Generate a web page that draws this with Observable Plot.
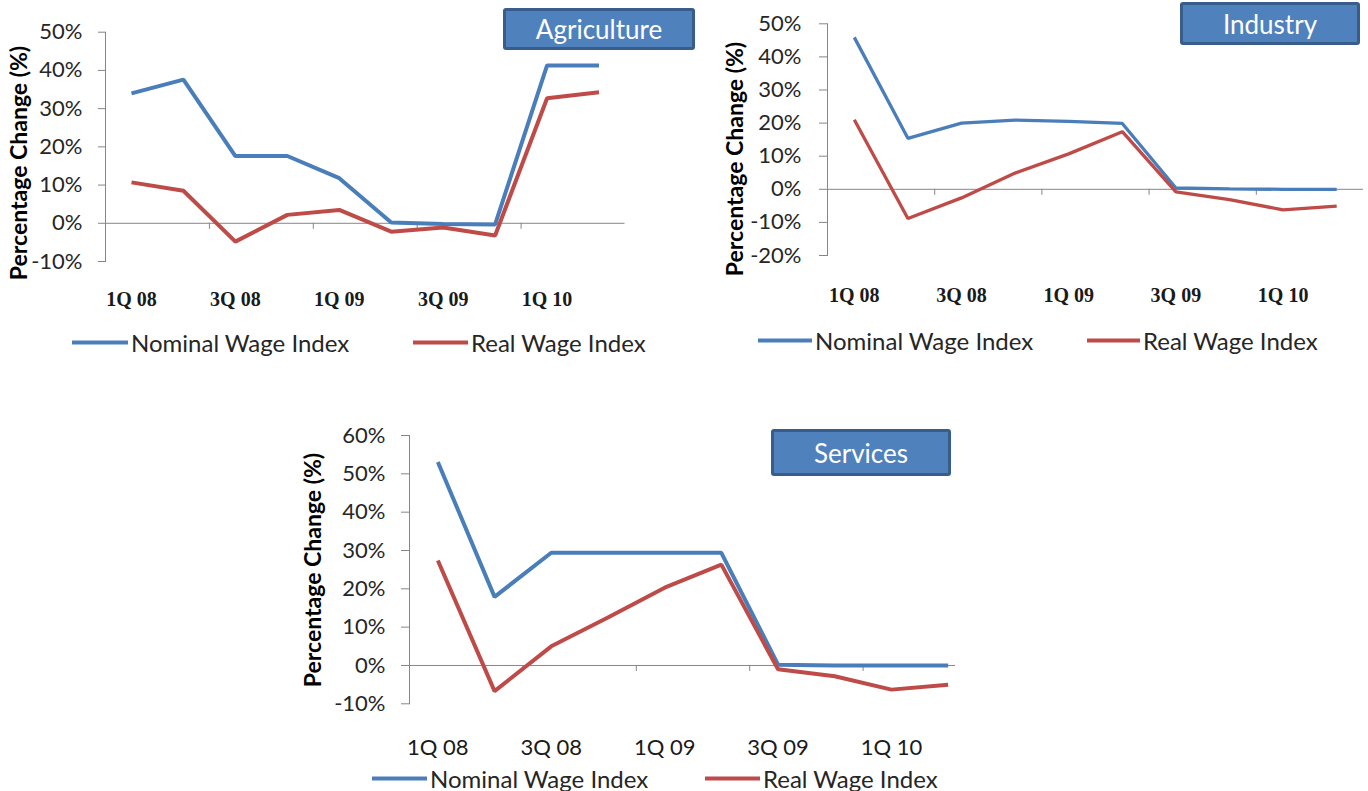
<!DOCTYPE html>
<html>
<head>
<meta charset="utf-8">
<script src="https://cdn.jsdelivr.net/npm/d3@7"></script>
<script src="https://cdn.jsdelivr.net/npm/@observablehq/plot@0.6"></script>
<style>
  body { margin: 0; background: #fff; }
  #page { position: relative; width: 1368px; height: 791px; overflow: hidden;
          font-family: Lato, "Open Sans", sans-serif; color: #262626; }
  .panel { position: absolute; }
  .title-box { position: absolute; box-sizing: border-box; background: #4F81BD;
               border: 3px solid #385D8A; border-radius: 3px; color: #fff;
               display: flex; align-items: center; justify-content: center;
               font-size: 26px; }
  .ytitle { position: absolute; transform: translate(-50%, -50%) rotate(-90deg);
            white-space: nowrap; font-weight: bold; font-size: 23px; color: #000; }
  .legend-item { position: absolute; display: flex; align-items: center;
                 transform: translateY(-50%); font-size: 24px; white-space: nowrap; }
  .swatch { display: inline-block; height: 4px; margin-right: 3px; }
</style>
</head>
<body>
<div id="page"></div>
<script>
// Quarterly year-on-year change in wage indices, 1Q 2008 – 2Q 2010 (%)
const quarters = ["1Q 08", "2Q 08", "3Q 08", "4Q 08", "1Q 09", "2Q 09", "3Q 09", "4Q 09", "1Q 10", "2Q 10"];
const seriesNames = ["Nominal Wage Index", "Real Wage Index"];
const seriesColors = ["#4A7EBB", "#BE4B48"];

const agricultureNominal = [34.0, 37.6, 17.6, 17.6, 11.8, 0.2, -0.2, -0.3, 41.3, 41.3];
const agricultureReal    = [10.7, 8.5, -4.8, 2.2, 3.5, -2.2, -1.1, -3.2, 32.7, 34.3];

const industryNominal = [45.9, 15.4, 20.0, 20.9, 20.5, 19.9, 0.4, 0.1, 0.0, 0.0];
const industryReal    = [21.0, -8.8, -2.6, 4.9, 10.7, 17.4, -0.8, -3.1, -6.2, -5.1];

const servicesNominal = [53.1, 17.9, 29.4, 29.4, 29.4, 29.4, 0.2, 0.0, 0.0, 0.0];
const servicesReal    = [27.4, -6.7, 5.0, 12.5, 20.3, 26.3, -1.0, -2.8, -6.3, -5.0];

const agricultureTicks = [-10, 0, 10, 20, 30, 40, 50];
const industryTicks    = [-20, -10, 0, 10, 20, 30, 40, 50];
const servicesTicks    = [-10, 0, 10, 20, 30, 40, 50, 60];

// every other quarter is labelled; small tick marks sit between label pairs
const labelIndex = quarters.map((q, i) => i).filter(i => i % 2 === 0);
const boundaries = quarters.map((q, i) => i + 0.5).filter((b, i) => i % 2 === 1);

const panels = [
  {
    name: "Agriculture", nominal: agricultureNominal, real: agricultureReal,
    yDomain: [-10, 50], yTicks: agricultureTicks,
    frame: {left: 0, top: 0, width: 700, height: 320, marginLeft: 105, marginRight: 75.5, marginTop: 31.7, marginBottom: 59},
    xRange: null, lineWidth: 4,
    xFont: {family: "Liberation Serif", weight: "bold", size: 20, padding: 30},
    yFontSize: 22, tickLen: 7, tickPad: 16,
    box: {left: 503, top: 8, width: 192, height: 42, size: 26},
    ytitle: {x: 18, y: 163},
    legend: [{x: 72, y: 342, w: 56}, {x: 413, y: 342, w: 55}]
  },
  {
    name: "Industry", nominal: industryNominal, real: industryReal,
    yDomain: [-20, 50], yTicks: industryTicks,
    frame: {left: 700, top: 0, width: 668, height: 320, marginLeft: 127, marginRight: 5, marginTop: 23.3, marginBottom: 65},
    xRange: null, lineWidth: 3.3,
    xFont: {family: "Liberation Serif", weight: "bold", size: 20, padding: 32},
    yFontSize: 22, tickLen: 8, tickPad: 18,
    box: {left: 1180, top: 2, width: 180, height: 43, size: 26},
    ytitle: {x: 734, y: 159},
    legend: [{x: 758, y: 340, w: 54}, {x: 1087, y: 340, w: 53}]
  },
  {
    name: "Services", nominal: servicesNominal, real: servicesReal,
    yDomain: [-10, 60], yTicks: servicesTicks,
    frame: {left: 280, top: 400, width: 700, height: 391, marginLeft: 129, marginRight: 25, marginTop: 35, marginBottom: 87.7},
    xRange: [129, 696], lineWidth: 4,
    xFont: {family: "Lato", weight: "normal", size: 22, padding: 36},
    yFontSize: 22, tickLen: 8, tickPad: 16,
    box: {left: 771, top: 429, width: 180, height: 47, size: 26},
    ytitle: {x: 312, y: 570},
    legend: [{x: 372, y: 778, w: 55}, {x: 705, y: 778, w: 55}]
  }
];

const page = document.getElementById("page");

for (const p of panels) {
  const rows = quarters.map((q, i) => ({i, quarter: q, nominal: p.nominal[i], real: p.real[i]}));
  const f = p.frame;

  const chart = Plot.plot({
    width: f.width,
    height: f.height,
    marginLeft: f.marginLeft,
    marginRight: f.marginRight,
    marginTop: f.marginTop,
    marginBottom: f.marginBottom,
    x: {type: "linear", domain: [-0.5, quarters.length - 0.5], ...(p.xRange ? {range: p.xRange} : {})},
    y: {domain: p.yDomain},
    style: {fontFamily: "Lato, 'Open Sans', sans-serif", fontSize: "20px", background: "transparent", overflow: "visible"},
    marks: [
      Plot.frame({anchor: "left", stroke: "#868686"}),
      Plot.axisY({
        ticks: p.yTicks, tickFormat: d => `${d}%`, tickSize: p.tickLen, tickPadding: p.tickPad,
        stroke: "#868686", color: "#262626", fontSize: p.yFontSize, label: null
      }),
      Plot.ruleY([0], {stroke: "#868686"}),
      Plot.ruleX(boundaries, {x: d => d, y1: 0, y2: 0, insetBottom: -6, stroke: "#868686", clip: true}),
      Plot.axisX({
        ticks: labelIndex, tickFormat: i => quarters[i], tickSize: 0, tickPadding: p.xFont.padding,
        fontFamily: p.xFont.family, fontWeight: p.xFont.weight, fontSize: p.xFont.size,
        color: "#1a1a1a", label: null
      }),
      Plot.line(rows, {x: "i", y: "nominal", stroke: seriesColors[0], strokeWidth: p.lineWidth, strokeLinejoin: "miter", strokeLinecap: "butt"}),
      Plot.line(rows, {x: "i", y: "real", stroke: seriesColors[1], strokeWidth: p.lineWidth, strokeLinejoin: "miter", strokeLinecap: "butt"})
    ]
  });

  const holder = document.createElement("div");
  holder.className = "panel";
  holder.style.left = f.left + "px";
  holder.style.top = f.top + "px";
  holder.appendChild(chart);
  page.appendChild(holder);

  const box = document.createElement("div");
  box.className = "title-box";
  Object.assign(box.style, {left: p.box.left + "px", top: p.box.top + "px", width: p.box.width + "px", height: p.box.height + "px", fontSize: p.box.size + "px"});
  box.textContent = p.name;
  page.appendChild(box);

  const yt = document.createElement("div");
  yt.className = "ytitle";
  yt.style.left = p.ytitle.x + "px";
  yt.style.top = p.ytitle.y + "px";
  yt.textContent = "Percentage Change (%)";
  page.appendChild(yt);

  p.legend.forEach((l, k) => {
    const item = document.createElement("div");
    item.className = "legend-item";
    item.style.left = l.x + "px";
    item.style.top = l.y + "px";
    const sw = document.createElement("span");
    sw.className = "swatch";
    sw.style.width = l.w + "px";
    sw.style.background = seriesColors[k];
    item.appendChild(sw);
    item.appendChild(document.createTextNode(seriesNames[k]));
    page.appendChild(item);
  });
}
</script>
</body>
</html>
